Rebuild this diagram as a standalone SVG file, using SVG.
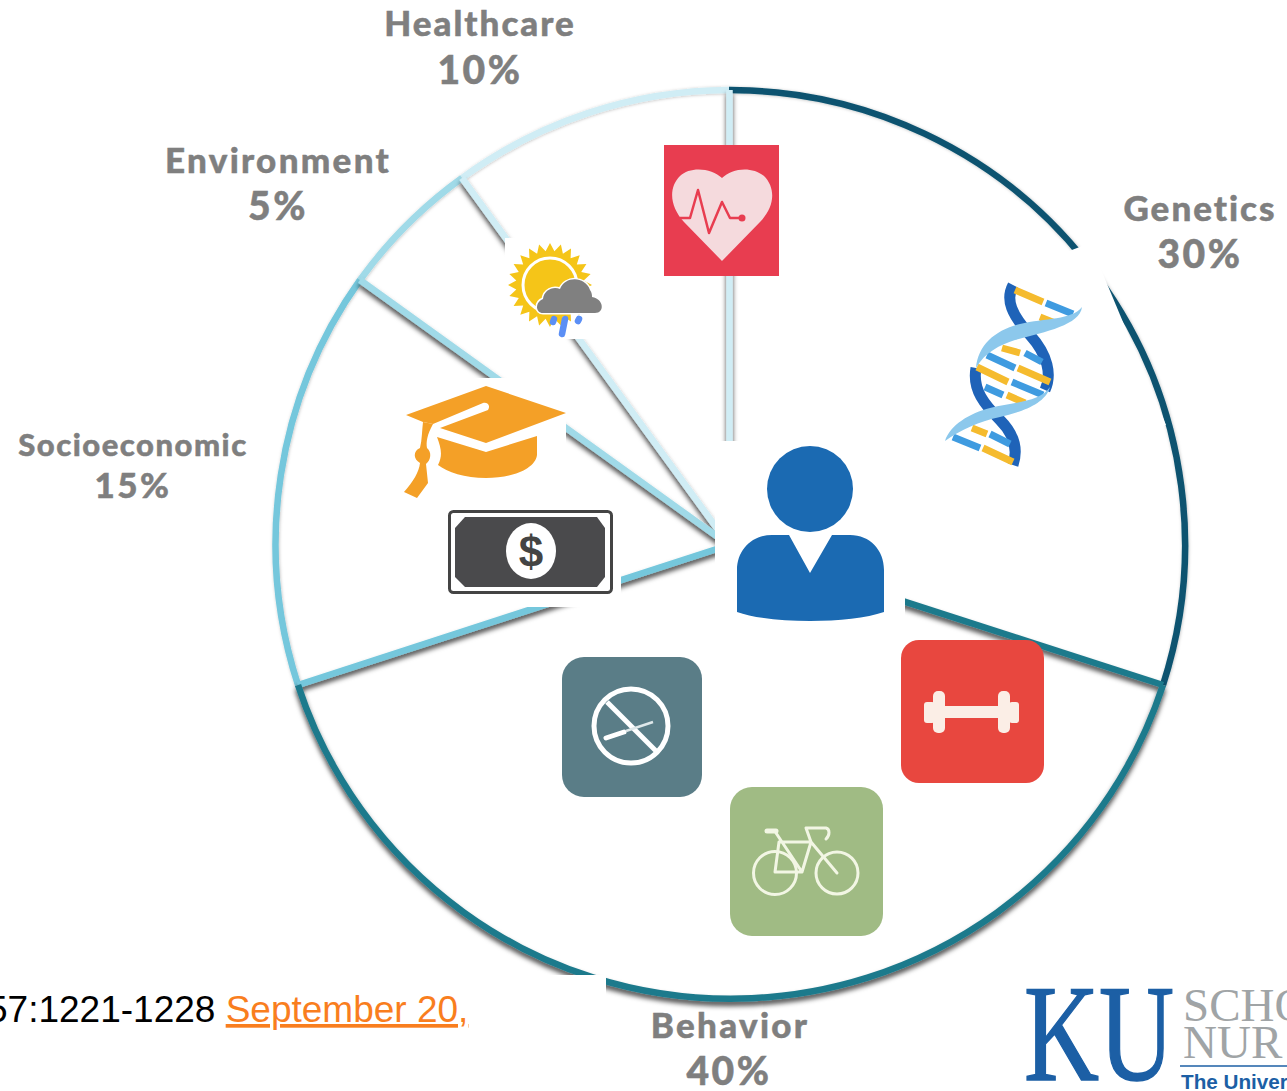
<svg xmlns="http://www.w3.org/2000/svg" xmlns:xlink="http://www.w3.org/1999/xlink" width="1287" height="1091" viewBox="0 0 1287 1091">
<style>
.lbl{font-family:"Lato","Open Sans",sans-serif;font-weight:900;fill:#7f7f7f;stroke:#7f7f7f;stroke-width:.5;text-anchor:middle;letter-spacing:2px}
.big{font-size:35px}
.pct{font-size:39px;letter-spacing:2.5px}
.soc{font-size:31px}
.patch{fill:#fff}
.arc{fill:none;stroke-width:6.5}
.spoke{fill:none;stroke-width:6.5}
.r{fill:none;stroke-width:7}
.y{stroke:#f5bb2e}.b{stroke:#3f9be0}
.w{fill:none;stroke:#f2f6e4;stroke-width:3;stroke-linecap:round;stroke-linejoin:round}
</style>
<defs>
<filter id="sh" x="-5%" y="-5%" width="110%" height="110%"><feDropShadow dx="0" dy="4" stdDeviation="2.500" flood-color="#000" flood-opacity="0.7"/></filter>
<filter id="sh2" x="-5%" y="-5%" width="110%" height="110%"><feDropShadow dx="0.500" dy="0.500" stdDeviation="1.500" flood-color="#000" flood-opacity="0.25"/></filter>
<polygon id="q" points="0,0 42,0 33.700,4.400 40.600,10.900 31.200,12.900 36.400,21 26.800,20.600 29.700,29.700 20.600,26.800 21,36.400 12.900,31.200 10.900,40.600 4.400,33.700 0,42" fill="#f5c518"/>
</defs>
<rect width="1287" height="1091" fill="#fff"/>
<g id="connectors">
<g filter="url(#sh2)">
<path class="arc" stroke="#d0edf5" d="M462 178A455 455 0 0 1 729 90"/>
<path class="arc" stroke="#a0dae8" d="M360 280A455 455 0 0 1 462 178"/>
<path class="arc" stroke="#74c7dc" d="M298 685A455 455 0 0 1 360 280"/>
<path class="arc" stroke="#0b5370" d="M729 90A455 455 0 0 1 1163 685"/>
</g>
<g filter="url(#sh)">
<path class="spoke" stroke="#d0edf5" d="M729.500 90V545"/>
<path class="spoke" stroke="#d0edf5" d="M462 178L729 545"/>
<path class="spoke" stroke="#a0dae8" d="M360 280L729 545"/>
<path class="spoke" stroke="#74c7dc" d="M298 685L729 545"/>
<path class="spoke" stroke="#1f7a8c" d="M1163 685L729 545"/>
<path class="arc" stroke="#1f7a8c" d="M298 685A455 455 0 0 0 1163 685"/>
</g>
</g>
<g id="labels">
<text class="lbl big" x="480" y="36">Healthcare</text>
<text class="lbl pct" x="480" y="84">10%</text>
<text class="lbl big" x="278" y="173" style="letter-spacing:2.300px">Environment</text>
<text class="lbl pct" x="278" y="220">5%</text>
<text class="lbl big" x="1200" y="221">Genetics</text>
<text class="lbl pct" x="1200" y="268">30%</text>
<text class="lbl soc" x="133" y="456" style="letter-spacing:1.500px">Socioeconomic</text>
<text class="lbl soc" x="133" y="498" style="font-size:35px;letter-spacing:2.500px">15%</text>
</g>
<g id="healthcare-icon">
<rect x="664" y="145" width="115" height="131" fill="#e83d50"/>
<path fill="#f5dadd" d="M722 178C712 168 690 166 680 176C668 188 670 207 684 222L722 261L760 222C775 207 776 188 764 176C752 166 732 168 722 178Z"/>
<path fill="none" stroke="#e83d50" stroke-width="2.500" stroke-linejoin="round" d="M680 218H690L698 190L709 233L722 202L730 218H742"/>
<circle cx="742" cy="218" r="3.500" fill="#e83d50"/>
</g>
<g id="environment-icon">
<rect class="patch" x="505" y="238" width="101" height="101"/>
<g transform="translate(550 285)">
<use xlink:href="#q" href="#q"/>
<use xlink:href="#q" href="#q" transform="rotate(90)"/>
<use xlink:href="#q" href="#q" transform="rotate(180)"/>
<use xlink:href="#q" href="#q" transform="rotate(270)"/>
<circle r="27" fill="#f5c518" stroke="#fff" stroke-width="3"/>
</g>
<path fill="#808080" stroke="#fff" stroke-width="3" paint-order="stroke" d="M543 313C535 313 535 302 543 299C544 290 553 286 560 289C565 276 585 276 590 290C592 293 592 295 592 297C604 299 605 313 595 313Z"/>
<path fill="none" stroke="#5b8ff5" stroke-width="6.500" stroke-linecap="round" d="M554 319L553 322M565 319L562 334M579 319L578 321"/>
</g>
<g id="genetics-icon">
<polygon class="patch" points="870,328 1090,243 1166,425 937,507"/>
<g fill="none" stroke="#1f63b8" stroke-width="11">
<path d="M1013 285C1005 300 1012 315 1030 335C1048 355 1052 375 1045 390"/>
<path d="M976 368C972 390 985 405 1000 420C1015 435 1018 450 1013 465"/>
</g>
<g class="r">
<path class="y" d="M1015 290L1043 302M1040 317L1055 323M1002 348L1020 353M977 367L1008 382M1018 368L1050 382M1007 395L1025 403M972 428L987 434M983 448L1013 462"/>
<path class="b" d="M1046 303L1073 314M1025 353L1042 362M987 355L1015 368M1012 382L1043 395M985 387L1003 395M990 434L1010 444M953 437L980 448"/>
</g>
<path fill="#8cc8ec" d="M1082 307C1080 325 1045 332 1015 340C1000 345 985 352 976 368C978 345 995 330 1020 324C1045 318 1072 320 1082 307Z"/>
<path fill="#8cc8ec" d="M1050 387C1045 405 1020 412 1000 417C980 421 960 430 945 441C950 425 970 413 990 408C1015 402 1040 402 1050 387Z"/>
</g>
<g id="socioeconomic-icon">
<rect class="patch" x="404" y="378" width="162" height="124"/>
<rect class="patch" x="445" y="495" width="176" height="112"/>
<path fill="#f4a027" d="M406 415L486 386L566 413L486 443L440 428L488 410C491 405 487 402 483 403L433 424L423 422Z"/>
<path fill="#f4a027" d="M437 437L486 452L537 436V455C535 470 510 478 486 478C465 478 447 472 438 465C443 455 441 448 437 437Z"/>
<path fill="#f4a027" d="M423 422L433 424C427 435 426 442 427 448C432 452 431 460 426 464L428 483L417 498L404 492C413 482 419 472 420 463C413 459 413 451 420 448C422 440 422 430 423 422Z"/>
<rect x="449.500" y="511.500" width="162" height="81" rx="4" fill="#fff" stroke="#444" stroke-width="3"/>
<path fill="#4a4a4c" d="M465 517H597L605 528V577L597 587H465L455 577V528Z"/>
<ellipse cx="531" cy="551" rx="25" ry="28" fill="#fff"/>
<text x="531" y="567" font-family="Liberation Sans" font-weight="700" font-size="44" fill="#444" text-anchor="middle">$</text>
</g>
<g id="person-icon">
<rect class="patch" x="715" y="441" width="190" height="184"/>
<circle cx="810" cy="489" r="43" fill="#1b6ab2"/>
<path fill="#1b6ab2" d="M737 612V570C737 550 752 535 772 535H789L810 573L832 535H850C870 535 884 550 884 570V612C850 624 770 624 737 612Z"/>
</g>
<g id="behavior-icons">
<g id="dumbbell">
<rect x="901" y="640" width="143" height="143" rx="18" fill="#e8473f"/>
<path fill="#fbeee6" d="M945 706H998V718H945Z"/>
<rect x="933" y="691" width="12" height="42" rx="5" fill="#fbeee6"/>
<rect x="924" y="702" width="11" height="21" rx="3" fill="#fbeee6"/>
<rect x="998" y="691" width="12" height="42" rx="5" fill="#fbeee6"/>
<rect x="1009" y="702" width="10" height="21" rx="3" fill="#fbeee6"/>
</g>
<g id="no-smoking">
<rect x="562" y="657" width="140" height="140" rx="22" fill="#5a7d87"/>
<circle cx="631" cy="726" r="37" fill="none" stroke="#fff" stroke-width="5"/>
<path stroke="#fff" stroke-width="5" d="M607 702L657 752"/>
<path stroke="#fff" stroke-width="5" stroke-linecap="round" d="M606 738L624 732"/>
<path stroke="#dfe8ea" stroke-width="2.500" d="M626 731L653 722"/>
</g>
<g id="bicycle">
<rect x="730" y="787" width="153" height="149" rx="22" fill="#a0bb84"/>
<circle class="w" cx="775" cy="873" r="21.500"/>
<circle class="w" cx="837" cy="873" r="21"/>
<path class="w" d="M776 833L802 872H775L779 842H811L802 872M811 842L837 873M806 828H826C830 829 830 835 826 839M811 842L806 828"/>
<path fill="none" stroke="#f2f6e4" stroke-width="5" stroke-linecap="round" d="M767 831H776"/>
</g>
</g>
<g id="citation">
<rect class="patch" x="0" y="975" width="606" height="116"/>
<text x="-13" y="1022" font-family="Liberation Sans" font-size="37" fill="#000" xml:space="preserve">57:1221-1228 <tspan fill="#f97e1e" text-decoration="underline">September 20,</tspan></text>
</g>
<g id="behavior-label">
<text class="lbl big" x="730" y="1038" style="letter-spacing:2.300px">Behavior</text>
<text class="lbl pct" x="729" y="1085">40%</text>
</g>
<g id="logo">
<text x="1024" y="1080" font-family="Liberation Serif" font-size="138" fill="#1c5fa5" stroke="#1c5fa5" stroke-width="1.500" textLength="150" lengthAdjust="spacingAndGlyphs">KU</text>
<text x="1183" y="1021" font-family="Liberation Serif" font-size="47" fill="#a0a4a6">SCHO</text>
<text x="1183" y="1058" font-family="Liberation Serif" font-size="47" fill="#a0a4a6">NUR</text>
<path stroke="#1c5fa5" stroke-width="1.500" d="M1180 1066H1287"/>
<text x="1181" y="1089" font-family="Liberation Sans" font-weight="700" font-size="20.700" fill="#1c5fa5">The Univer</text>
</g>
</svg>
